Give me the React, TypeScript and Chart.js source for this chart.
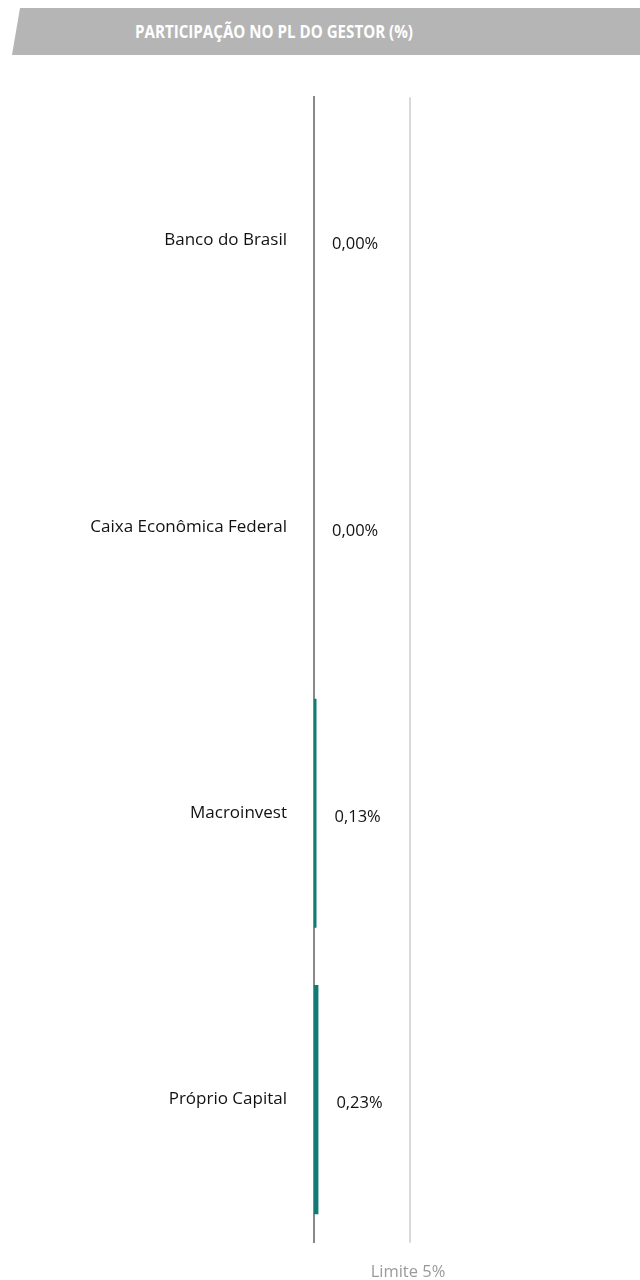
import React, { useEffect, useRef } from "react";
import { Chart, registerables } from "chart.js";

Chart.register(...registerables);

const title = "PARTICIPAÇÃO NO PL DO GESTOR (%)";
const categories = ["Banco do Brasil", "Caixa Econômica Federal", "Macroinvest", "Próprio Capital"];
const values = [0.0, 0.0, 0.13, 0.23];
const limitValue = 5;
const limitLabel = "Limite 5%";
const xMax = 10;

const FONT = "'Open Sans', 'Noto Sans', sans-serif";

const fmt = (v: number) => v.toFixed(2).replace(".", ",") + "%";

const overlayPlugin = {
  id: "overlay",
  afterDatasetsDraw(chart: any) {
    const { ctx, chartArea, scales } = chart;
    const xs = scales.x;
    const lx = xs.getPixelForValue(limitValue);
    ctx.save();
    // limit line
    ctx.strokeStyle = "#cccccc";
    ctx.lineWidth = 1.5;
    ctx.beginPath();
    ctx.moveTo(lx, chartArea.top);
    ctx.lineTo(lx, chartArea.bottom);
    ctx.stroke();
    // limit label
    ctx.fillStyle = "#9a9a9a";
    ctx.font = `16.5px ${FONT}`;
    ctx.textAlign = "center";
    ctx.textBaseline = "middle";
    ctx.fillText(limitLabel, lx - 2, chartArea.bottom + 29);
    // value labels
    const meta = chart.getDatasetMeta(0);
    ctx.fillStyle = "#111111";
    ctx.font = `16.5px ${FONT}`;
    ctx.textAlign = "left";
    meta.data.forEach((bar: any, i: number) => {
      ctx.fillText(fmt(values[i]), bar.x + 18, bar.y + 4);
    });
    ctx.restore();
  },
};

export default function App() {
  const ref = useRef<HTMLCanvasElement | null>(null);

  useEffect(() => {
    document.body.style.margin = "0";
    if (!ref.current) return;
    const chart = new Chart(ref.current, {
      type: "bar",
      data: {
        labels: categories,
        datasets: [
          {
            data: values,
            backgroundColor: "#137a73",
            borderWidth: 0,
            categoryPercentage: 0.8,
            barPercentage: 1,
          },
        ],
      },
      options: {
        indexAxis: "y",
        animation: false,
        responsive: true,
        maintainAspectRatio: false,
        layout: { padding: { top: 36, bottom: 33, left: 0, right: 134 } },
        plugins: {
          legend: { display: false },
          tooltip: { enabled: false },
        },
        scales: {
          x: {
            display: false,
            min: 0,
            max: xMax,
          },
          y: {
            afterFit: (s: any) => {
              s.width = 314;
            },
            grid: { display: false, drawTicks: false },
            border: { display: true, color: "#888888", width: 2 },
            ticks: {
              padding: 27,
              color: "#111111",
              font: { family: FONT, size: 17 },
            },
          },
        },
      },
      plugins: [overlayPlugin],
    });
    return () => chart.destroy();
  }, []);

  return (
    <div style={{ position: "relative", width: 640, height: 1280, background: "#fff", overflow: "hidden" }}>
      <div
        style={{
          position: "absolute",
          top: 8,
          left: 12,
          width: 628,
          height: 47,
          background: "#b5b5b5",
          clipPath: "polygon(8px 0, 100% 0, 100% 100%, 0 100%)",
        }}
      />
      <div
        style={{
          position: "absolute",
          top: 8,
          left: 0,
          width: 548,
          height: 47,
          lineHeight: "47px",
          textAlign: "center",
          color: "#ffffff",
          fontFamily: FONT,
          fontWeight: 700,
          fontSize: 18,
          whiteSpace: "nowrap",
          transform: "scaleX(0.84)",
          transformOrigin: "274px 50%",
        }}
      >
        {title}
      </div>
      <div style={{ position: "absolute", top: 60, left: 0, width: 640, height: 1220 }}>
        <canvas ref={ref} />
      </div>
    </div>
  );
}
